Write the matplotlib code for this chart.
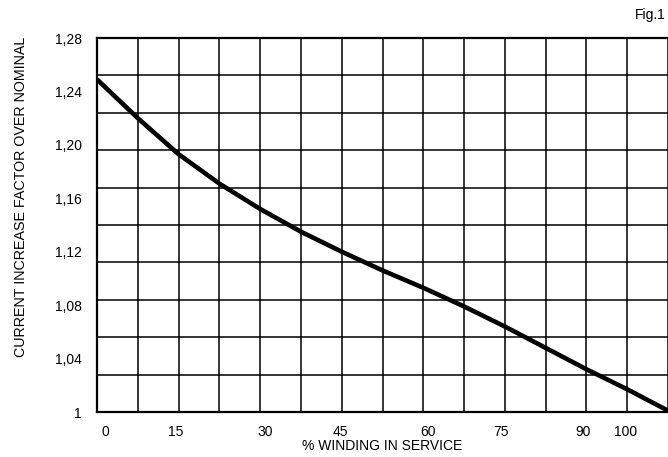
import matplotlib
matplotlib.use('Agg')
import matplotlib.pyplot as plt
import numpy as np

# curve (x in % winding, y = current factor)
winding = [0, 7.5, 15, 22.5, 30, 37.5, 45, 52.5, 60, 67.5, 75, 82.5, 90, 97.5, 105]
factor = [1.249, 1.220, 1.193, 1.171, 1.152, 1.135, 1.120, 1.106, 1.093,
          1.079, 1.064, 1.048, 1.032, 1.017, 1.001]

y_ticks = [1.0, 1.04, 1.08, 1.12, 1.16, 1.20, 1.24, 1.28]
y_tick_labels = ['1', '1,04', '1,08', '1,12', '1,16', '1,20', '1,24', '1,28']
x_tick_labels = ['0', '15', '30', '45', '60', '75', '90', '100']

plt.rcParams['font.family'] = ['Liberation Sans', 'DejaVu Sans']

fig = plt.figure(figsize=(6.68, 4.57), dpi=100)
ax = fig.add_axes([97 / 668, 1 - 412 / 457, (668 - 97) / 668, (412 - 38) / 457])

ax.plot(winding, factor, color='black', linewidth=3.3,
        solid_capstyle='butt', solid_joinstyle='round', zorder=3)

ax.set_xlim(0, 105)
ax.set_ylim(1.0, 1.28)

# grid of the original drawing: 14 columns, 10 rows
ax.set_xticks(np.arange(0, 105.1, 7.5), minor=True)
ax.set_yticks(np.linspace(1.0, 1.28, 11), minor=True)
ax.grid(True, which='minor', color='black', linewidth=1.1)
ax.tick_params(which='minor', length=0)

# tick labels sit roughly under every other grid line
x_tick_pos = [1.5, 14.5, 31.0, 44.7, 60.8, 74.3, 89.3, 97.2]
ax.set_xticks(x_tick_pos)
ax.set_xticklabels(x_tick_labels, fontsize=10)
ax.set_yticks(y_ticks)
ax.set_yticklabels(y_tick_labels, fontsize=10)
ax.tick_params(axis='y', which='major', length=0, pad=11)
ax.tick_params(axis='x', which='major', length=0, pad=9)

for side in ['left', 'bottom', 'top']:
    ax.spines[side].set_linewidth(1.6)
ax.spines['right'].set_visible(False)

fig.text(382 / 668, 1 - 446 / 457, '% WINDING IN SERVICE',
         ha='center', va='center', fontsize=10)
fig.text(21 / 668, 1 - 197 / 457, 'CURRENT INCREASE FACTOR OVER NOMINAL',
         rotation=90, ha='center', va='center', fontsize=10.3)
fig.text(666 / 668, 1 - 15 / 457, 'Fig.1', ha='right', va='center', fontsize=10)

plt.savefig('out.png', dpi=100)
